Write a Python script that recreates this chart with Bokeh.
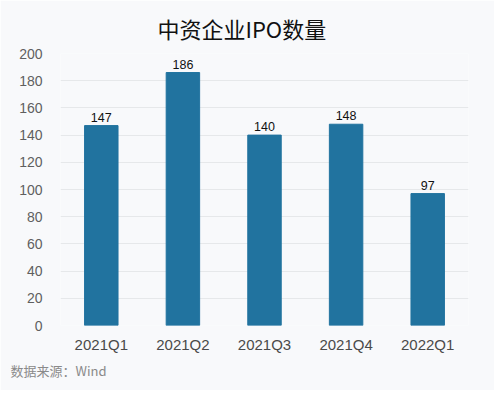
from bokeh.plotting import figure
from bokeh.models import ColumnDataSource, Title, Range1d, FixedTicker
from bokeh.core.properties import value
from bokeh.embed import file_html
from bokeh.resources import INLINE

quarters = ["2021Q1", "2021Q2", "2021Q3", "2021Q4", "2022Q1"]
counts = [147, 186, 140, 148, 97]
title_text = "中资企业IPO数量"
source_text = "数据来源：Wind"

BG = "#f8f9fb"
BAR = "#21739f"

src = ColumnDataSource(dict(q=quarters, v=counts, t=[str(c) for c in counts]))

p = figure(x_range=quarters, y_range=Range1d(0, 200), width=494, height=390,
           output_backend="svg", toolbar_location=None,
           min_border_left=60, min_border_right=26, min_border_top=53, min_border_bottom=65)
p.background_fill_color = BG
p.border_fill_color = BG
p.outline_line_color = None

p.title.text = title_text
p.title.align = "left"
p.title.text_font = "Noto Sans CJK SC"
p.title.text_font_size = "22px"
p.title.text_font_style = "normal"
p.title.text_color = "#111111"
p.title.offset = 97
p.title.standoff = 19

p.vbar(x="q", top="v", width=0.41, source=src, color=BAR)
p.text(x="q", y="v", text="t", source=src, text_align="center", text_baseline="bottom",
       y_offset=-4, text_font_size="12.5px", text_color="#111111",
       text_font=value("Liberation Sans"))

p.yaxis.ticker = FixedTicker(ticks=list(range(0, 201, 20)))
for ax in (p.xaxis[0], p.yaxis[0]):
    ax.axis_line_color = None
    ax.major_tick_line_color = None
    ax.minor_tick_line_color = None
    ax.major_label_text_font = "Liberation Sans"
p.yaxis.major_label_text_font_size = "14px"
p.yaxis.major_label_text_color = "#5f5f5f"
p.yaxis.major_label_standoff = 12
p.xaxis.major_label_text_font_size = "15px"
p.xaxis.major_label_text_color = "#4a4a4a"
p.xaxis.major_label_standoff = 4
p.xgrid.grid_line_color = None
p.ygrid.grid_line_color = "#e6e8ea"

p.add_layout(Title(text=source_text, align="left", offset=-50, standoff=6,
                   text_font="Noto Sans CJK SC", text_font_size="13px",
                   text_font_style="normal", text_color="#8a8a8a"), "below")

open("out.html", "w").write(file_html(p, INLINE))
